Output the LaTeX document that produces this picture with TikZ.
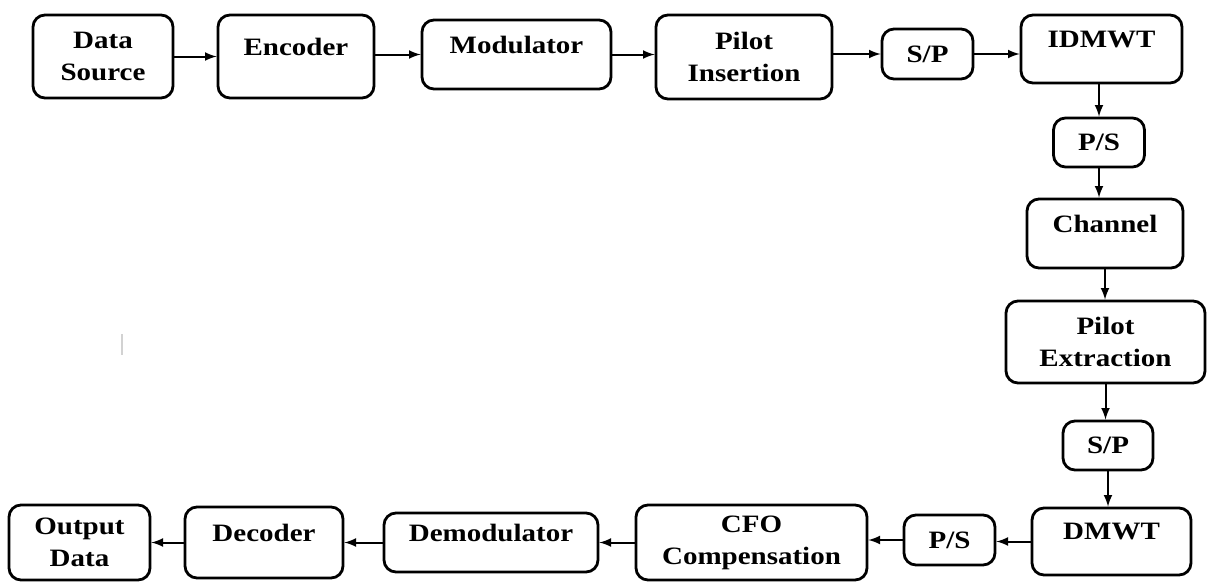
\documentclass[tikz,border=0pt]{standalone}
\usepackage{fontspec}
\newfontfamily\blockfont{Liberation Serif}[FakeStretch=1.16]
\usepackage{tikz}
\usetikzlibrary{arrows}

\begin{document}
\begin{tikzpicture}[x=0.5pt,y=-0.5pt]
    \tikzstyle{block}=[draw, line width=1.4pt, rounded corners=6pt, align=center, inner sep=2pt,
                       font=\blockfont\bfseries\fontsize{12.5}{16}\selectfont]
    \tikzstyle{raised}=[text depth=10pt]
    \tikzstyle{link}=[line width=1pt, -latex]

    \useasboundingbox (0,0) rectangle (1208,584);

    % transmitter row
    \node[block, minimum width=70pt, minimum height=41.5pt] (dsrc) at (103,56.5) {Data\\Source};
    \node[block, raised, minimum width=78pt, minimum height=41.5pt] (enc) at (296,56.5) {Encoder};
    \node[block, raised, minimum width=94.5pt, minimum height=34.5pt] (mod) at (516.5,54.5) {Modulator};
    \node[block, minimum width=88pt, minimum height=42pt] (pins) at (744,57) {Pilot\\Insertion};
    \node[block, minimum width=45.5pt, minimum height=25pt] (sp1) at (927.5,54) {S/P};
    \node[block, raised, minimum width=80.5pt, minimum height=34pt] (idmwt) at (1101.5,49) {IDMWT};

    % right column
    \node[block, minimum width=45.5pt, minimum height=24.5pt] (ps1) at (1099,142.5) {P/S};
    \node[block, raised, minimum width=78pt, minimum height=34.5pt] (chan) at (1105,233.5) {Channel};
    \node[block, minimum width=99.5pt, minimum height=41pt] (pext) at (1105.5,342) {Pilot\\Extraction};
    \node[block, minimum width=45pt, minimum height=24.5pt] (sp2) at (1108,445.5) {S/P};
    \node[block, raised, minimum width=79.5pt, minimum height=33.5pt] (dmwt) at (1111.5,541.5) {DMWT};

    % receiver row
    \node[block, minimum width=45.5pt, minimum height=25pt] (ps2) at (949.5,540) {P/S};
    \node[block, minimum width=115.5pt, minimum height=37.5pt] (cfo) at (751.5,542.5) {CFO\\Compensation};
    \node[block, raised, minimum width=107pt, minimum height=29.5pt] (demod) at (491,542.5) {Demodulator};
    \node[block, raised, minimum width=79pt, minimum height=35.5pt] (dec) at (264,542.5) {Decoder};
    \node[block, minimum width=70.5pt, minimum height=37.5pt] (dout) at (79.5,542.5) {Output\\Data};

    % connecting wires
    \draw[link] (dsrc.east) -- (dsrc.east -| enc.west);
    \draw[link] (enc.east |- mod.west) -- (mod.west);
    \draw[link] (mod.east) -- (mod.east -| pins.west);
    \draw[link] (pins.east |- sp1.west) -- (sp1.west);
    \draw[link] (sp1.east) -- (sp1.east -| idmwt.west);

    \draw[link] (idmwt.south -| ps1.north) -- (ps1.north);
    \draw[link] (ps1.south) -- (ps1.south |- chan.north);
    \draw[link] (chan.south) -- (chan.south |- pext.north);
    \draw[link] (pext.south) -- (pext.south |- sp2.north);
    \draw[link] (sp2.south) -- (sp2.south |- dmwt.north);

    \draw[link] (dmwt.west) -- (dmwt.west -| ps2.east);
    \draw[link] (ps2.west) -- (ps2.west -| cfo.east);
    \draw[link] (cfo.west) -- (cfo.west -| demod.east);
    \draw[link] (demod.west) -- (demod.west -| dec.east);
    \draw[link] (dec.west) -- (dec.west -| dout.east);

    % stray mark
    \draw[gray!35, line width=0.6pt] (122,334) -- (122,355);

\end{tikzpicture}
\end{document}
